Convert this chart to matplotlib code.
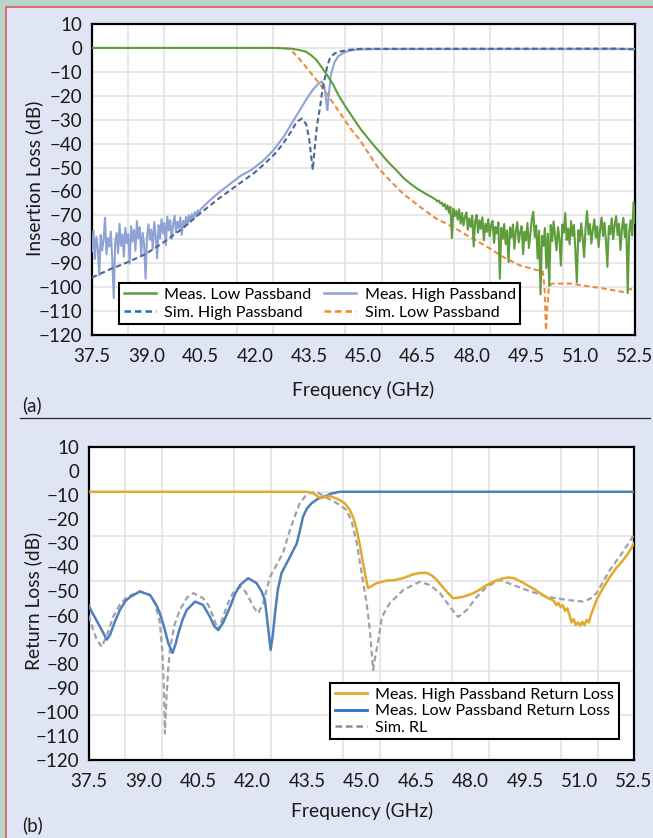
import numpy as np
import matplotlib
matplotlib.use("Agg")
import matplotlib.pyplot as plt
from matplotlib.patches import Rectangle
from matplotlib.lines import Line2D

plt.rcParams['font.family'] = ['Lato', 'DejaVu Sans']
plt.rcParams['axes.unicode_minus'] = True

# ---------------- data: (a) insertion loss ----------------
x_ticks = [37.5, 39.0, 40.5, 42.0, 43.5, 45.0, 46.5, 48.0, 49.5, 51.0, 52.5]
x_tick_labels = ["37.5", "39.0", "40.5", "42.0", "43.5", "45.0", "46.5", "48.0", "49.5", "51.0", "52.5"]
y_ticks = list(range(-120, 11, 10))

# Meas. Low Passband (green) - smooth roll-off part
meas_low_f_smooth = [37.5, 42.5, 43.0, 43.2, 43.4, 43.55, 43.7, 43.85, 44.0, 44.15, 44.3, 44.5,
                     44.7, 44.9, 45.1, 45.3, 45.5, 45.7, 45.9, 46.1, 46.3, 46.5, 46.7, 46.9]
meas_low_il_smooth = [0, 0, -0.3, -0.8, -1.5, -3, -5, -8.2, -11.5, -15, -19.5, -24.5,
                      -29, -33.5, -37.3, -41, -44.5, -48, -51, -54.3, -56.8, -59, -60.8, -62.5]
# Meas. Low Passband (green) - noisy stopband part, 47.0 .. 52.5 GHz sweep
meas_low_il_noisy = [
    -63.5, -64.2, -63.8, -65.0, -64.6, -66.1, -65.2, -67.5, -65.8, -68.9,
    -66.4, -79.5, -67.2, -70.3, -68.1, -71.8, -67.5, -73.4, -69.0, -74.2,
    -70.5, -68.8, -76.0, -71.2, -74.8, -70.1, -83.0, -72.5, -69.8, -77.2,
    -72.0, -75.6, -70.8, -80.4, -73.5, -76.9, -71.6, -78.8, -74.0, -72.3,
    -81.5, -74.8, -77.6, -72.9, -96.5, -75.2, -79.8, -73.6, -82.0, -76.3,
    -89.5, -75.0, -79.2, -73.8, -84.0, -76.5, -72.8, -81.3, -77.0, -74.5,
    -86.2, -76.8, -80.5, -73.2, -83.6, -77.9, -71.5, -68.5, -79.0, -74.2,
    -88.0, -76.4, -103.0, -78.5, -82.7, -75.3, -92.0, -77.6, -99.5, -74.0,
    -80.8, -72.5, -78.4, -84.6, -74.9, -79.7, -91.0, -73.8, -77.2, -69.0,
    -80.3, -75.5, -82.1, -72.4, -78.6, -74.0, -85.0, -98.0, -76.2, -80.9,
    -73.3, -79.4, -87.5, -75.1, -68.2, -78.0, -73.6, -81.8, -76.0, -71.7,
    -79.3, -74.6, -83.2, -75.8, -70.9, -78.7, -73.0, -80.6, -91.5, -74.4,
    -77.9, -71.2, -79.9, -74.1, -70.3, -78.2, -73.5, -84.5, -75.6, -71.0,
    -79.1, -73.7, -102.5, -76.8, -72.0, -78.5, -64.5, -73.0]

# Meas. High Passband (light blue) - noisy stopband part, 37.5 .. 40.5 GHz sweep
meas_high_il_noisy = [
    -85.0, -76.5, -88.2, -79.0, -83.5, -95.0, -78.2, -84.6, -80.1, -71.0,
    -86.3, -79.5, -83.0, -76.8, -88.5, -104.5, -81.2, -77.4, -85.9, -73.5,
    -82.7, -78.0, -87.3, -75.2, -81.6, -77.8, -90.2, -74.6, -80.9, -76.1,
    -84.8, -72.4, -79.6, -75.0, -86.4, -77.3, -82.1, -96.5, -78.9, -73.7,
    -80.2, -75.9, -84.0, -72.8, -78.4, -88.0, -74.1, -79.7, -71.6, -77.5,
    -73.2, -82.4, -70.5, -76.3, -72.0, -79.8, -73.9, -70.2, -77.0, -72.6,
    -75.4, -70.8, -78.1, -72.3, -74.9, -70.6, -73.8, -69.9, -72.7, -69.4,
    -71.5, -68.6, -70.4, -67.9, -69.2, -67.5]
meas_high_f_smooth = [40.7, 41.0, 41.3, 41.6, 41.9, 42.2, 42.5, 42.8, 43.0, 43.2, 43.4, 43.6,
                      43.75, 43.85, 43.92, 43.97, 44.0, 44.04, 44.1, 44.2, 44.3, 44.45, 44.6,
                      44.8, 45.2, 52.5]
meas_high_il_smooth = [-64.5, -60.5, -57, -53.5, -51, -47.5, -43, -37, -32, -27, -22, -17.5,
                       -15, -14, -16, -22, -26, -20, -11, -6, -3.5, -2, -1.2,
                       -0.7, -0.5, -0.5]

# Sim. High Passband (dark blue dashed)
sim_high_f = [37.5, 38.0, 38.5, 39.0, 39.5, 40.0, 40.5, 41.0, 41.5, 42.0, 42.3, 42.6, 42.8,
              43.0, 43.15, 43.3, 43.42, 43.5, 43.56, 43.6, 43.65, 43.72, 43.8, 43.87,
              43.94, 44.0, 44.08, 44.2, 44.35, 44.6, 44.9, 52.0, 52.5]
sim_high_il = [-96, -92.5, -89.5, -86, -81, -75.5, -69, -63, -57.5, -52, -48, -43.5, -39.5,
               -35, -31, -29.5, -32, -38, -46, -51, -42, -32, -24.7, -17,
               -12, -7.5, -4, -2.3, -1.5, -0.8, -0.4, -0.3, -0.6]

# Sim. Low Passband (orange dashed)
sim_low_f = [37.5, 42.8, 42.97, 43.1, 43.25, 43.52, 43.8, 44.07, 44.35, 44.63, 44.9, 45.18,
             45.4, 45.64, 45.9, 46.1, 46.56, 47.0, 47.47, 47.93, 48.4, 48.85, 49.3, 49.8,
             49.95, 50.0, 50.04, 50.08, 50.12, 50.2, 50.7, 51.16, 51.6, 52.17, 52.3, 52.5]
sim_low_il = [0, 0, -0.5, -2.5, -5, -10, -15.2, -21, -27.2, -33.5, -38.5, -45,
              -50, -54, -58, -61, -66.4, -71.3, -74.8, -79, -83, -87.3, -90.8, -92.9,
              -93.3, -100, -118, -108, -100, -98.5, -98.5, -99.5, -100.5, -102, -101, -100.6]

# ---------------- data: (b) return loss ----------------
high_rl_f = [37.5, 43.5, 43.7, 43.86, 44.0, 44.13, 44.4, 44.55, 44.68, 44.78, 44.87, 44.96,
             45.04, 45.12, 45.18, 45.25, 45.42, 45.69, 45.9, 46.14, 46.4, 46.6, 46.8, 46.95,
             47.07, 47.2, 47.34, 47.52, 47.65, 47.8, 48.0, 48.17, 48.3, 48.45, 48.7, 48.9,
             49.05, 49.2, 49.4, 49.55, 49.75, 49.91, 50.1, 50.24, 50.30, 50.36, 50.42, 50.48,
             50.54, 50.60, 50.66, 50.72, 50.78, 50.84, 50.90, 50.96, 51.02, 51.08, 51.14,
             51.20, 51.26, 51.32, 51.38, 51.47, 51.65, 51.84, 52.0, 52.2, 52.35, 52.5]
high_rl = [-8.6, -8.6, -9.5, -11.2, -10.8, -10.3, -12, -13.5, -16.2, -19.5, -24.5, -31,
           -38, -44.5, -48.6, -48, -46.5, -45.5, -45.3, -44.5, -43, -42.3, -42.3, -43.5,
           -45.2, -47.5, -50, -52.8, -52.6, -52.2, -51.2, -50, -48.8, -47.3, -45.5, -44.5,
           -44.2, -44.5, -46, -47.3, -49, -50.7, -52.5, -53.5, -54.0, -55.6, -54.8, -56.5,
           -55.7, -58.0, -57.0, -59.5, -62.8, -61.5, -64.0, -62.8, -64.2, -62.6, -64.0,
           -61.8, -62.9, -59.5, -57.2, -53.5, -48.5, -43.9, -40.5, -37, -34, -30]

low_rl_f = [37.5, 37.55, 37.8, 37.99, 38.08, 38.2, 38.35, 38.5, 38.63, 38.9, 39.18, 39.35,
            39.45, 39.58, 39.68, 39.8, 39.88, 39.96, 40.08, 40.19, 40.42, 40.64, 40.83, 40.95,
            41.06, 41.19, 41.38, 41.52, 41.66, 41.88, 42.11, 42.25, 42.34, 42.43, 42.5, 42.56,
            42.62, 42.7, 42.8, 43.03, 43.22, 43.3, 43.39, 43.5, 43.63, 43.8, 43.94, 44.05,
            44.13, 44.4, 52.5]
low_rl = [-56, -57.7, -64.6, -70, -68, -63, -57.7, -54, -52.3, -50, -51.5, -55.5,
          -59, -65.5, -71.4, -75.5, -72, -67.3, -61.5, -57.7, -54.2, -55.6, -60.6, -64.5,
          -66, -63, -56.5, -51, -47.3, -44.5, -46.5, -50, -53.5, -65, -74.3, -68,
          -59, -49, -42.3, -35.7, -30, -25, -19, -15.5, -13.3, -11.5, -10.8, -10.2,
          -9.5, -8.6, -8.6]

sim_rl_f = [37.5, 37.55, 37.7, 37.85, 38.0, 38.16, 38.35, 38.54, 38.9, 39.18, 39.33, 39.45,
            39.52, 39.56, 39.59, 39.63, 39.68, 39.73, 39.85, 40.0, 40.2, 40.37, 40.64, 40.8,
            40.92, 41.05, 41.19, 41.32, 41.46, 41.66, 41.8, 41.93, 42.05, 42.16, 42.29, 42.48,
            42.66, 42.84, 43.03, 43.17, 43.3, 43.45, 43.58, 43.75, 43.86, 44.1, 44.32, 44.59,
            44.73, 44.87, 45.0, 45.14, 45.23, 45.32, 45.38, 45.45, 45.56, 45.78, 46.15, 46.6,
            46.88, 47.16, 47.44, 47.66, 47.9, 48.17, 48.45, 48.81, 49.17, 49.54, 50.1, 50.65,
            51.1, 51.3, 51.47, 51.65, 51.84, 52.15, 52.47, 52.5]
sim_rl = [-60, -63, -69.5, -73, -68, -60.6, -55.5, -52.3, -50, -51.5, -55.5, -63,
          -75, -90, -109, -95, -82, -74, -64, -57.7, -52.5, -50.7, -52.8, -56,
          -60.6, -66, -60.6, -55, -50.7, -48, -50, -53.5, -57, -59, -55, -44,
          -39, -34, -24.5, -18.5, -13.3, -10.5, -9.1, -8.6, -9.5, -11.5, -13.3, -16.2,
          -21, -30, -42, -54.8, -66, -82.6, -77, -71.4, -60.6, -54.8, -49.4, -46,
          -47.3, -50.7, -56.5, -60.6, -57.7, -52.3, -48, -45.2, -47.3, -49.4, -52.2, -53.5,
          -54.2, -53, -50.7, -46, -41, -34.5, -27.2, -27]

legend_a = ["Meas. Low Passband", "Meas. High Passband", "Sim. High Passband", "Sim. Low Passband"]
legend_b = ["Meas. High Passband Return Loss", "Meas. Low Passband Return Loss", "Sim. RL"]

# ---------------- figure ----------------
W, H = 653, 838
DPI = 100
fig = plt.figure(figsize=(W / DPI, H / DPI), dpi=DPI)
fig.patch.set_facecolor('#b9d4cb')

def fx(px):
    return px / W

def fy(py):
    return 1 - py / H

panel = Rectangle((fx(5.5), -0.05), 1.2, fy(7.5) + 0.05, transform=fig.transFigure,
                  facecolor='#dfe5f3', edgecolor='#e05858', linewidth=1.2, zorder=-10)
fig.patches.append(panel)

TICK_FS = 13.5
LABEL_FS = 13.9
LEG_FS = 11.6

def style_axes(ax):
    ax.set_facecolor('white')
    ax.set_xlim(37.5, 52.5)
    ax.set_ylim(-120, 10)
    ax.set_xticks(x_ticks)
    ax.set_xticklabels(x_tick_labels)
    ax.set_yticks(y_ticks)
    ax.set_yticklabels([str(v).replace('-', '\u2212') for v in y_ticks])
    ax.tick_params(axis='both', which='both', length=0, labelsize=TICK_FS, colors='#1a1a1a')
    ax.tick_params(axis='x', pad=9)
    ax.tick_params(axis='y', pad=7)
    ax.set_xticks(np.arange(38.5, 52.0, 1.0), minor=True)
    for s in ax.spines.values():
        s.set_linewidth(1.6)
        s.set_color('black')
    ax.set_axisbelow(True)

# ---- (a)
ax1 = fig.add_axes([fx(92), fy(335), fx(635) - fx(92), fy(24) - fy(335)])
style_axes(ax1)
ax1.grid(which='minor', axis='x', color='#e3e3e3', linewidth=1.2)
ax1.grid(which='major', axis='y', color='#e3e3e3', linewidth=1.2)

meas_low_f = np.concatenate([meas_low_f_smooth, np.linspace(47.0, 52.5, len(meas_low_il_noisy))])
meas_low_il = np.concatenate([meas_low_il_smooth, meas_low_il_noisy])
meas_high_f = np.concatenate([np.linspace(37.5, 40.5, len(meas_high_il_noisy)), meas_high_f_smooth])
meas_high_il = np.concatenate([meas_high_il_noisy, meas_high_il_smooth])

c_green = '#5e9c3c'
c_lblue = '#8ea2d4'
c_dblue = '#4a6796'
c_orange = '#ef8a3a'
dash = (2.6, 1.6)

ax1.plot(sim_low_f, sim_low_il, color=c_orange, lw=1.5, dashes=dash, zorder=3)
ax1.plot(meas_high_f, meas_high_il, color=c_lblue, lw=1.5, zorder=4)
ax1.plot(sim_high_f, sim_high_il, color=c_dblue, lw=1.5, dashes=dash, zorder=5)
ax1.plot(meas_low_f, meas_low_il, color=c_green, lw=1.5, zorder=6)

hA = [Line2D([], [], color=c_green, lw=1.8),
      Line2D([], [], color='#1f6fc0', lw=1.8, dashes=dash),
      Line2D([], [], color=c_lblue, lw=1.8),
      Line2D([], [], color='#f28c28', lw=1.8, dashes=dash)]
lA = [legend_a[0], legend_a[2], legend_a[1], legend_a[3]]
legA = ax1.legend(hA, lA, ncol=2, loc='upper left', bbox_to_anchor=(fx(119), fy(283)),
                  bbox_transform=fig.transFigure, borderaxespad=0, fontsize=LEG_FS,
                  frameon=True, fancybox=False, edgecolor='black', framealpha=1,
                  handlelength=2.0, handletextpad=0.5, columnspacing=0.8,
                  labelspacing=0.2, borderpad=0.3)
legA.get_frame().set_linewidth(1.5)
legA.set_zorder(10)

fig.text(fx(34), fy(178), "Insertion Loss (dB)", rotation=90, ha='center', va='center',
         fontsize=LABEL_FS, color='#1a1a1a')
fig.text(fx(363), fy(390), "Frequency (GHz)", ha='center', va='center',
         fontsize=LABEL_FS, color='#1a1a1a')
fig.text(fx(22), fy(405), "(a)", ha='left', va='center', fontsize=13.5, color='#1a1a1a')

fig.lines.append(Line2D([fx(20), fx(650)], [fy(417.5), fy(417.5)], transform=fig.transFigure,
                        color='#2a2a2a', lw=0.9))

# ---- (b)
ax2 = fig.add_axes([fx(89), fy(760), fx(634) - fx(89), fy(447) - fy(760)])
style_axes(ax2)
ax2.set_yticks(np.linspace(-120, 10, 8), minor=True)
ax2.grid(which='minor', axis='both', color='#e3e3e3', linewidth=1.2)

c_gold = '#e2a92c'
c_blue = '#4f7fb8'
c_gray = '#a0a0a8'

ax2.plot(sim_rl_f, sim_rl, color=c_gray, lw=1.6, dashes=dash, zorder=3)
ax2.plot(low_rl_f, low_rl, color=c_blue, lw=1.8, zorder=4)
ax2.plot(high_rl_f, high_rl, color=c_gold, lw=1.8, zorder=5)

hB = [Line2D([], [], color=c_gold, lw=2.0),
      Line2D([], [], color='#1f73c4', lw=2.0),
      Line2D([], [], color='#8c8c8c', lw=1.8, dashes=dash)]
legB = ax2.legend(hB, legend_b, ncol=1, loc='upper left', bbox_to_anchor=(fx(330), fy(683)),
                  bbox_transform=fig.transFigure, borderaxespad=0, fontsize=LEG_FS,
                  frameon=True, fancybox=False, edgecolor='black', framealpha=1,
                  handlelength=2.0, handletextpad=0.5, labelspacing=0.12, borderpad=0.3)
legB.get_frame().set_linewidth(1.5)
legB.set_zorder(10)

fig.text(fx(33), fy(601), "Return Loss (dB)", rotation=90, ha='center', va='center',
         fontsize=LABEL_FS, color='#1a1a1a')
fig.text(fx(362), fy(811), "Frequency (GHz)", ha='center', va='center',
         fontsize=LABEL_FS, color='#1a1a1a')
fig.text(fx(22), fy(825), "(b)", ha='left', va='center', fontsize=13.5, color='#1a1a1a')

fig.savefig("out.png", dpi=DPI, facecolor=fig.get_facecolor())
